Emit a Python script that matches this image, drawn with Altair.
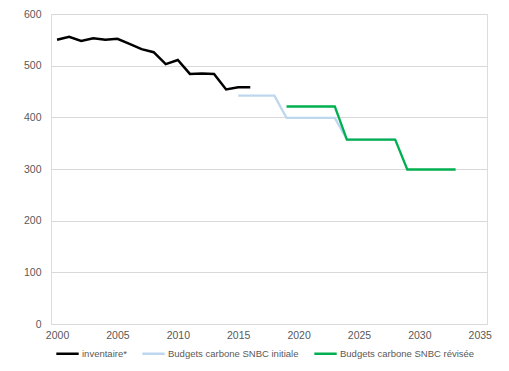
import altair as alt
import pandas as pd

series_names = ["inventaire*", "Budgets carbone SNBC initiale", "Budgets carbone SNBC révisée"]
colors = ["#000000", "#BDD7EE", "#00B050"]

inv_years = list(range(2000, 2017))
inv_values = [550, 556, 548, 553, 550, 552, 542, 532, 526, 503, 511, 484, 485, 484, 454, 458, 458]

init_years = [2015, 2018, 2019, 2023, 2024, 2028]
init_values = [442, 442, 399, 399, 357, 357]

rev_years = [2019, 2023, 2024, 2028, 2029, 2033]
rev_values = [421, 421, 357, 357, 299, 299]

rows = []
for y, v in zip(inv_years, inv_values):
    rows.append({"year": y, "value": v, "series": series_names[0]})
for y, v in zip(init_years, init_values):
    rows.append({"year": y, "value": v, "series": series_names[1]})
for y, v in zip(rev_years, rev_values):
    rows.append({"year": y, "value": v, "series": series_names[2]})
df = pd.DataFrame(rows)

FONT = "Liberation Sans"
GRAY = "#595959"

x = alt.X("year:Q", title=None,
          scale=alt.Scale(domain=[1999.5, 2035.6], nice=False, zero=False),
          axis=alt.Axis(values=list(range(2000, 2036, 5)), format="d", grid=False,
                        ticks=False, domain=False, labelFontSize=10.5, labelColor=GRAY,
                        labelFont=FONT, labelPadding=6))
y = alt.Y("value:Q", title=None,
          scale=alt.Scale(domain=[0, 600], nice=False),
          axis=alt.Axis(values=list(range(0, 601, 100)), grid=True, gridColor="#D9D9D9",
                        gridWidth=1, ticks=False, domain=False, labelFontSize=10.5,
                        labelColor=GRAY, labelFont=FONT, labelPadding=10))
color = alt.Color("series:N", title=None,
                  scale=alt.Scale(domain=series_names, range=colors),
                  legend=alt.Legend(orient="none", direction="horizontal", legendX=4,
                                    legendY=327, symbolType="stroke", symbolStrokeWidth=2.5,
                                    symbolSize=500, labelFontSize=9.5, labelColor=GRAY,
                                    labelFont=FONT, labelOffset=2, columnPadding=10,
                                    labelLimit=300))

layers = []
for i, name in enumerate(series_names):
    layers.append(
        alt.Chart(df).transform_filter(alt.datum.series == name)
        .mark_line(strokeWidth=2.5 if i == 0 else 2.3)
        .encode(x=x, y=y, color=color)
    )

chart = alt.layer(*layers).properties(
    width=436, height=310,
    autosize=alt.AutoSizeParams(type="none"),
    padding={"left": 43, "top": 6, "right": 14, "bottom": 42},
).configure_view(stroke=None).configure(background="white")

chart.save("out.html", embed_options={"renderer": "svg", "actions": False})
